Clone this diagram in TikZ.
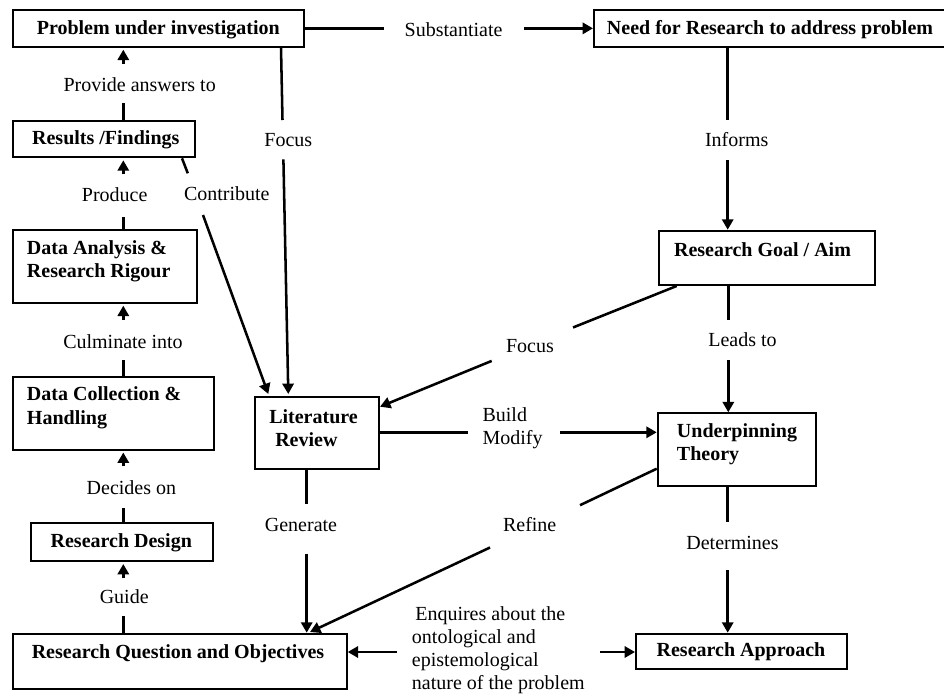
\documentclass[tikz,border=0pt]{standalone}
\usepackage{fontspec}
\setmainfont{Liberation Serif}
\usetikzlibrary{arrows.meta}
\begin{document}
\begin{tikzpicture}[x=0.75pt,y=-0.75pt,
  box/.style={draw, line width=1.5pt, inner sep=0pt},
  boxtext/.style={font=\fontsize{15}{17.6}\selectfont\bfseries, inner sep=0pt},
  lbl/.style={font=\fontsize{15}{17.2}\selectfont, inner sep=0pt},
  conn/.style={line width=1.9pt},
  arr/.style={conn, -{Triangle[length=7.8pt,width=8.4pt]}},
  uparr/.style={arr, shorten >=1.5pt}]

\useasboundingbox (0,0) rectangle (944,697);
\fill[white] (0,0) rectangle (944,697);

% ---------- boxes ----------
\node[box, minimum width=218.5pt, minimum height=27.5pt]  (prob) at (158.35,28.35) {};
\node[box, minimum width=282pt,   minimum height=27.5pt]  (need) at (782,28.35) {};
\node[box, minimum width=136.7pt, minimum height=27.45pt] (res)  at (103.85,139) {};
\node[box, minimum width=138pt,   minimum height=54.5pt]  (ana)  at (104.7,266.35) {};
\node[box, minimum width=151.2pt, minimum height=54.6pt]  (col)  at (113.5,413.1) {};
\node[box, minimum width=136.5pt, minimum height=28.5pt]  (des)  at (121.7,542) {};
\node[box, minimum width=250.5pt, minimum height=41.25pt] (rq)   at (179.7,661.2) {};
\node[box, minimum width=93pt,    minimum height=53.55pt] (lit)  at (317,433) {};
\node[box, minimum width=162pt,   minimum height=40.7pt]  (goal) at (767,257.85) {};
\node[box, minimum width=118.7pt, minimum height=54.75pt] (und)  at (736.85,449.8) {};
\node[box, minimum width=158pt,   minimum height=26.7pt]  (app)  at (741.35,651.5) {};

% ---------- box texts ----------
\node[boxtext] (prob-t) at (158.3,29.5) {Problem under investigation};
\node[boxtext, anchor=west] (need-t) at (606.7,29.5) {Need for Research to address problem};
\node[boxtext] (res-t) at (105.8,140) {Results /Findings};
\node[boxtext, anchor=west, align=left] (ana-t) at (26.7,261.5) {Data Analysis \&\\Research Rigour};
\node[boxtext, anchor=west, align=left] (col-t) at (26.7,407.8) {Data Collection \&\\Handling};
\node[boxtext] (des-t) at (121.3,543) {Research Design};
\node[boxtext] (rq-t) at (178,653.7) {Research Question and Objectives};
\node[boxtext, anchor=west, align=left] (lit-t) at (269,428.3) {Literature\\\hspace*{4.5pt}Review};
\node[boxtext] (goal-t) at (762.5,250) {Research Goal / Aim};
\node[boxtext, anchor=west, align=left] (und-t) at (676.7,444.2) {Underpinning\\Theory};
\node[boxtext] (app-t) at (741,652) {Research Approach};

% ---------- connector labels ----------
\node[lbl] (l-provide) at (139.7,85)  {Provide answers to};
\node[lbl] (l-produce) at (114.7,195) {Produce};
\node[lbl] (l-culm)    at (123,341.7) {Culminate into};
\node[lbl] (l-decide)  at (131.4,488) {Decides on};
\node[lbl] (l-guide)   at (124.2,597) {Guide};
\node[lbl] (l-focusa)  at (288.3,140) {Focus};
\node[lbl] (l-contr)   at (226.8,194) {Contribute};
\node[lbl] (l-subst)   at (453.6,29.5) {Substantiate};
\node[lbl] (l-informs) at (736.7,140) {Informs};
\node[lbl] (l-leads)   at (742.5,340) {Leads to};
\node[lbl] (l-focusb)  at (530,346)   {Focus};
\node[lbl, anchor=west, align=left] (l-build) at (482.3,428) {Build\\Modify};
\node[lbl] (l-gen)     at (301,524.7) {Generate};
\node[lbl] (l-refine)  at (529.7,524.7) {Refine};
\node[lbl] (l-det)     at (732.5,543) {Determines};
\node[lbl, anchor=west, align=left] (l-enq) at (411.7,650.3)
  {\hspace*{2.5pt}Enquires about the\\ontological and\\epistemological\\nature of the problem};

% ---------- gap end points of the connectors ----------
\coordinate (pa1) at (123.3,103.3); \coordinate (pa2) at (123.3,63.7);
\coordinate (pr1) at (123.3,216.7); \coordinate (pr2) at (123.3,174.3);
\coordinate (cu1) at (123.3,360);   \coordinate (cu2) at (123.3,319.7);
\coordinate (de1) at (123.3,508);   \coordinate (de2) at (123.3,466);
\coordinate (gu1) at (123.3,616);   \coordinate (gu2) at (123.3,578);
\coordinate (fa0) at (281,46.7);    \coordinate (fa1) at (282.5,120);
\coordinate (fa2) at (283.4,159.3); \coordinate (fa3) at (288.3,394);
\coordinate (co0) at (182,157.3);   \coordinate (co1) at (187.8,173.3);
\coordinate (co2) at (203,215);     \coordinate (co3) at (268.3,394);
\coordinate (su1) at (384,28.35);   \coordinate (su2) at (524,28.35);
\coordinate (in1) at (727.7,120);   \coordinate (in2) at (727.7,160);
\coordinate (le1) at (728.3,320);   \coordinate (le2) at (728.3,360);
\coordinate (dt1) at (727.7,522);   \coordinate (dt2) at (727.7,570);
\coordinate (fb0) at (676.7,285);   \coordinate (fb1) at (573,327.5);
\coordinate (fb2) at (491.7,360.9); \coordinate (fb3) at (380,406.7);
\coordinate (bm1) at (468.3,432.3); \coordinate (bm2) at (560,432.3);
\coordinate (ge1) at (306.7,503.7); \coordinate (ge2) at (306.7,553.7);
\coordinate (rf0) at (657.7,468.7); \coordinate (rf1) at (580,505.2);
\coordinate (rf2) at (490,547.5);   \coordinate (rf3) at (310,632);
\coordinate (en1) at (396.7,652);   \coordinate (en2) at (600,652);

% ---------- left column: upward chain ----------
\draw[conn]  (pa1 |- res.north) -- (pa1);
\draw[uparr] (pa2) -- (pa2 |- prob.south);
\draw[conn]  (pr1 |- ana.north) -- (pr1);
\draw[uparr] (pr2) -- (pr2 |- res.south);
\draw[conn]  (cu1 |- col.north) -- (cu1);
\draw[uparr] (cu2) -- (cu2 |- ana.south);
\draw[conn]  (de1 |- des.north) -- (de1);
\draw[uparr] (de2) -- (de2 |- col.south);
\draw[conn]  (gu1 |- rq.north) -- (gu1);
\draw[uparr] (gu2) -- (gu2 |- des.south);

% ---------- into the literature review ----------
\draw[conn] (fa0 |- prob.south) -- (fa1);
\draw[arr]  (fa2) -- (fa3);
\draw[conn] (co0 |- res.south) -- (co1);
\draw[arr]  (co2) -- (co3);
\draw[conn] (fb0 |- goal.south) -- (fb1);
\draw[arr]  (fb2) -- (fb3 -| lit.east);

% ---------- top row and right column ----------
\draw[conn] (su1 -| prob.east) -- (su1);
\draw[arr]  (su2) -- (su2 -| need.west);
\draw[conn] (in1 |- need.south) -- (in1);
\draw[arr]  (in2) -- (in2 |- goal.north);
\draw[conn] (le1 |- goal.south) -- (le1);
\draw[arr]  (le2) -- (le2 |- und.north);
\draw[conn] (dt1 |- und.south) -- (dt1);
\draw[arr]  (dt2) -- (dt2 |- app.north);

% ---------- middle links ----------
\draw[conn] (bm1 -| lit.east) -- (bm1);
\draw[arr]  (bm2) -- (bm2 -| und.west);
\draw[conn] (ge1 |- lit.south) -- (ge1);
\draw[arr]  (ge2) -- (ge2 |- rq.north);
\draw[conn] (rf0 -| und.west) -- (rf1);
\draw[arr]  (rf2) -- (rf3);
\draw[arr]  (en1) -- (en1 -| rq.east);
\draw[arr]  (en2) -- (en2 -| app.west);
\end{tikzpicture}
\end{document}
